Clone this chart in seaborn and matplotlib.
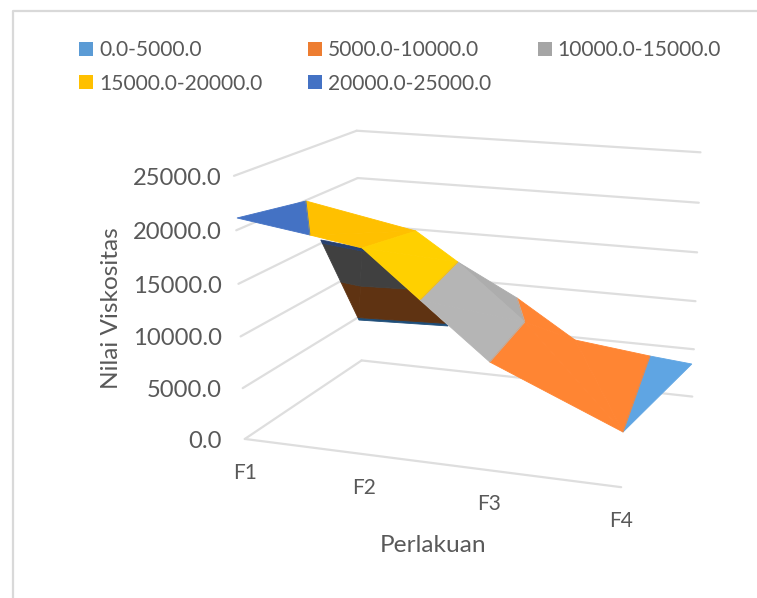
import numpy as np, pandas as pd, matplotlib
matplotlib.use("Agg")
import matplotlib.pyplot as plt
from matplotlib.patches import Patch
import seaborn as sns

# ---- data ----
categories = ["F1", "F2", "F3", "F4"]
value_ticks = [0.0, 5000.0, 10000.0, 15000.0, 20000.0, 25000.0]
band_labels = ["0.0-5000.0", "5000.0-10000.0", "10000.0-15000.0", "15000.0-20000.0", "20000.0-25000.0"]
# surface nodes: position along the category axis (0-1), depth (0-1), value
node_x = [0.025, 0.004, 0.280, 0.432, 0.532, 0.734, 0.903, 0.997, 0.194, 0.274, 0.485, 0.630, 0.665, 1.000, 0.263, 0.389, 0.201, 0.442]
node_d = [-0.054, 0.526, 0.664, 0.553, 0.814, 0.659, 0.858, 0.992, 0.021, 0.199, 0.015, 0.510, 0.011, 0.008, -0.093, -0.151, 0.380, 0.417]
node_v = [21500, 20000, 17000, 15000, 10000, 7500, 5000, 3500, 20000, 18000, 15000, 10000, 10000, 5000, 20400, 20400, 9600, 9600]
# node indices of the lit upper faces, with a shade flag, and of the underside faces
upper_faces = [(0,1,8), (1,2,8), (2,9,8), (2,3,9), (3,10,9), (3,4,11), (3,11,10), (11,12,10), (4,5,11), (11,5,13), (11,13,12), (5,6,13), (6,7,13)]
upper_shade = [0, 0, 0, 1, 1, 1, 0, 0, 0, 0, 0, 0, 0]
under_faces = [(14,16,15), (15,16,17)]

# ---- style ----
legend_colors = ["#5B9BD5", "#ED7D31", "#A5A5A5", "#FFC000", "#4472C4"]
upper_colors = ["#5FA5E3", "#FF8533", "#B5B5B5", "#FFC000", "#4472C4"]
shade_colors = ["#5FA5E3", "#FF8533", "#ADADAD", "#FFD000", "#4472C4"]
under_colors = ["#14283C", "#1F4E79", "#5F3312", "#404040", "#27406F"]
GRID = "#DEDEDE"; TEXT = "#595959"

sns.set_theme(style="white")
plt.rcParams["font.family"] = ["Lato", "DejaVu Sans"]
fig = plt.figure(figsize=(7.57, 5.98), dpi=100)
ax = fig.add_axes([0, 0, 1, 1])
ax.set_xlim(0, 757); ax.set_ylim(598, 0); ax.axis("off")

# camera of the 3D box: box corners (x, depth, value share) and where they fall on the chart
box_corners = [(0,0,0),(1,0,0),(0,1,0),(1,1,0),(0,0,1),(0,1,1),(1,1,1)]
box_pixels = [(245,438),(622,487),(361,361),(692,397),(233,177),(358,130),(700,152)]
rows = []
for (x,d,z),(u,v) in zip(box_corners, box_pixels):
    rows.append([x,d,z,1,0,0,0,0,-u*x,-u*d,-u*z,-u])
    rows.append([0,0,0,0,x,d,z,1,-v*x,-v*d,-v*z,-v])
CAM = np.linalg.svd(np.array(rows, float))[2][-1].reshape(3,4)
def project(x, d, value):
    h = CAM @ np.array([x, d, value/25000.0, 1.0])
    return h[0]/h[2], h[1]/h[2]

# grid lines through seaborn
segs = []
def seg(name, a, b):
    for p in (a, b):
        px, py = project(*p)
        segs.append(dict(line=name, px=px, py=py))
for v in value_ticks:
    seg(f"l{v}", (0,0,v), (0,1,v))
    seg(f"b{v}", (0,1,v), (1,1,v))
seg("front", (0,0,0), (1,0,0))
sns.lineplot(data=pd.DataFrame(segs), x="px", y="py", units="line", estimator=None, sort=False,
             color=GRID, lw=1.6, ax=ax, legend=False, zorder=1)

# split a triangle into value bands
def clip(poly, lo, hi):
    def cut(poly, keep, inter):
        out = []
        for i in range(len(poly)):
            a, b = poly[i], poly[(i+1) % len(poly)]
            if keep(a): out.append(a)
            if keep(a) != keep(b):
                t = (inter - a[2]) / (b[2] - a[2])
                out.append(tuple(a[k] + t*(b[k]-a[k]) for k in range(3)))
        return out
    poly = cut(poly, lambda p: p[2] >= lo, lo)
    if poly: poly = cut(poly, lambda p: p[2] <= hi, hi)
    return poly
def draw_face(face, colors, z):
    tri = [(node_x[i], node_d[i], float(node_v[i])) for i in face]
    for b, c in enumerate(colors):
        poly = clip(tri, b*5000.0, (b+1)*5000.0)
        if len(poly) >= 3:
            xy = np.array([project(*p) for p in poly])
            ax.fill(xy[:,0], xy[:,1], facecolor=c, edgecolor=c, lw=0.6, zorder=z)
for f in under_faces:
    draw_face(f, under_colors, 2)
for f, s in zip(upper_faces, upper_shade):
    draw_face(f, shade_colors if s else upper_colors, 3)

# value and category labels
for v in value_ticks:
    px, py = project(0, 0, v)
    ax.text(222, py + 2.5, f"{v:.1f}", ha="right", va="center", fontsize=17.1, color=TEXT)
for i, c in enumerate(categories):
    px, py = project(i/3, 0, 0)
    ax.text(px, py + 34, c, ha="center", va="center", fontsize=15, color=TEXT)
ax.text(112, 308, "Nilai Viskositas", rotation=90, ha="center", va="center", fontsize=17.6, color=TEXT)
ax.text(433, 545.5, "Perlakuan", ha="center", va="center", fontsize=17.6, color=TEXT)

# legend (fills column by column)
order = [0, 3, 1, 4, 2]
handles = [Patch(facecolor=legend_colors[i], edgecolor="none") for i in order]
ax.legend(handles, [band_labels[i] for i in order], ncols=3, loc="upper left",
          bbox_to_anchor=(79, 40.5), bbox_transform=ax.transData, frameon=False, borderpad=0, borderaxespad=0,
          fontsize=15.1, labelcolor=TEXT, handlelength=0.67, handleheight=0.67, handletextpad=0.28,
          columnspacing=2.2, labelspacing=0.62)

# chart frame
ax.plot([13, 13, 757], [598, 11, 11], color="#D9D9D9", lw=1.6, zorder=0, clip_on=False)
fig.savefig("out.png", dpi=100)
